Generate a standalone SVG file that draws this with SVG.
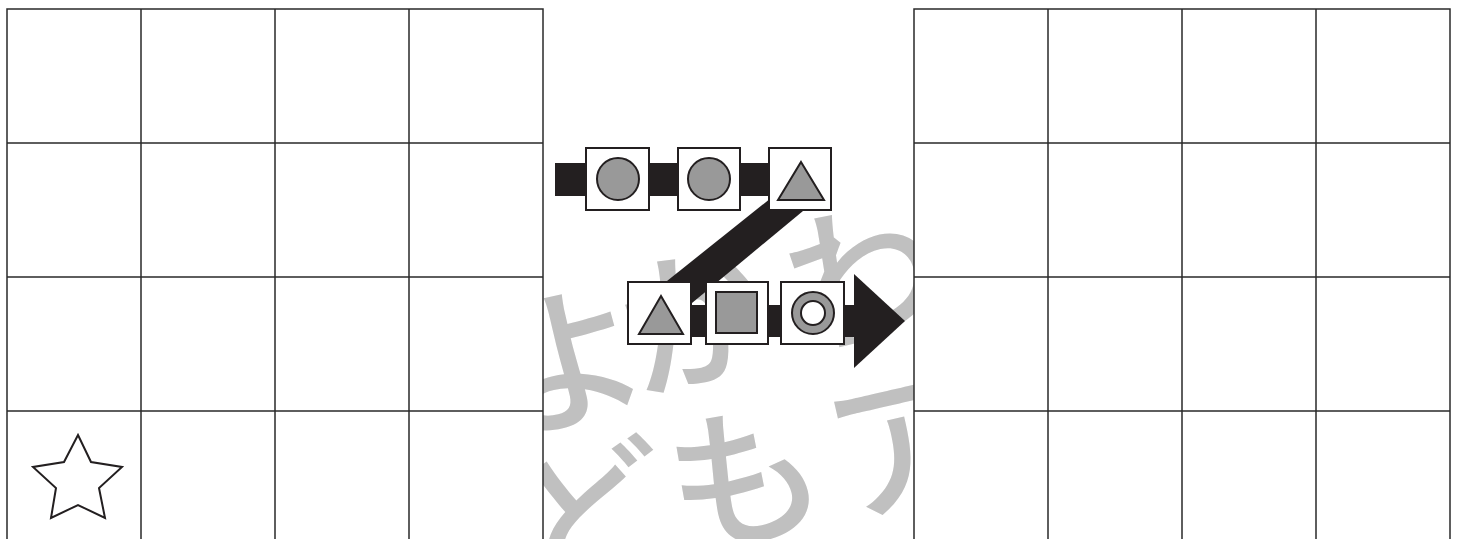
<svg xmlns="http://www.w3.org/2000/svg" width="1458" height="539" viewBox="0 0 1458 539">
<style>
.wm{font-family:"Noto Sans CJK JP","Noto Sans",sans-serif;font-size:155px;font-weight:500;fill:#c0c0c0;text-anchor:middle;dominant-baseline:central}
.grid{fill:#fff;stroke:#2a2a2a;stroke-width:1.5}
.gl{stroke:#2a2a2a;stroke-width:1.5}
.box{fill:#fff;stroke:#231f20;stroke-width:2}
.sh{fill:#999;stroke:#231f20;stroke-width:2}
.band{fill:#231f20}
</style>
<rect width="1458" height="539" fill="#fff"/>
<g id="watermark">
<text class="wm" x="566" y="350" transform="rotate(-13 566 350)">よ</text>
<text class="wm" x="695" y="310" transform="rotate(-13 695 310)">か</text>
<text class="wm" x="860" y="266" transform="rotate(-13 860 266)">わ</text>
<text class="wm" x="590" y="505" transform="rotate(-13 590 505)">ど</text>
<text class="wm" x="742" y="468" transform="rotate(-13 742 468)">も</text>
<text class="wm" x="902" y="434" transform="rotate(-13 902 434)">ア</text>
</g>
<g id="grid-left">
<rect class="grid" x="7" y="9" width="536" height="540"/>
<path class="gl" d="M141 9V539M275 9V539M409 9V539M7 143H543M7 277H543M7 411H543"/>
<path id="star" d="M78 435L91 462L122 467L99 488L105 518L78 505L51 518L56 488L33 467L64 462Z" fill="none" stroke="#231f20" stroke-width="2" stroke-linejoin="miter"/>
</g>
<g id="grid-right">
<rect class="grid" x="914" y="9" width="536" height="540"/>
<path class="gl" d="M1048 9V539M1182 9V539M1316 9V539M914 143H1450M914 277H1450M914 411H1450"/>
</g>
<g id="connectors">
<rect class="band" x="555" y="163" width="245" height="33"/>
<polygon class="band" points="771,198 803,211 692,303 662,285"/>
<rect class="band" x="670" y="305" width="190" height="32"/>
<polygon class="band" points="854,274 905,321 854,368"/>
</g>
<g id="box1">
<rect class="box" x="586" y="148" width="63" height="62"/>
<circle class="sh" cx="618" cy="179" r="21"/>
</g>
<g id="box2">
<rect class="box" x="678" y="148" width="62" height="62"/>
<circle class="sh" cx="709" cy="179" r="21"/>
</g>
<g id="box3">
<rect class="box" x="769" y="148" width="62" height="62"/>
<polygon class="sh" points="801,162 824,200 778,200"/>
</g>
<g id="box4">
<rect class="box" x="628" y="282" width="63" height="62"/>
<polygon class="sh" points="661,296 683,334 639,334"/>
</g>
<g id="box5">
<rect class="box" x="706" y="282" width="62" height="62"/>
<rect class="sh" x="716" y="292" width="41" height="41"/>
</g>
<g id="box6">
<rect class="box" x="781" y="282" width="63" height="62"/>
<circle cx="813" cy="313" r="16.5" fill="none" stroke="#999" stroke-width="9"/>
<circle cx="813" cy="313" r="21" fill="none" stroke="#231f20" stroke-width="2"/>
<circle cx="813" cy="313" r="12" fill="#fff" stroke="#231f20" stroke-width="2"/>
</g>
</svg>
